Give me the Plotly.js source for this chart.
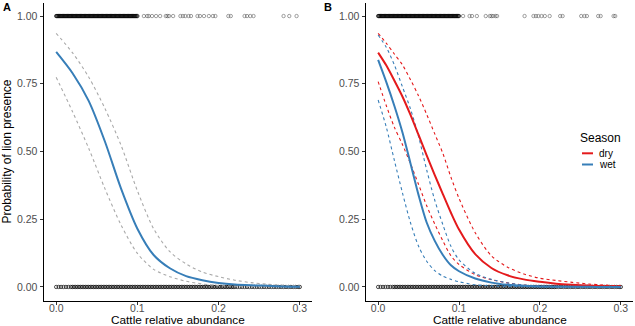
<!DOCTYPE html>
<html>
<head>
<meta charset="utf-8">
<script src="https://cdn.plot.ly/plotly-3.0.1.min.js"></script>
<style>html,body{margin:0;padding:0;background:#fff;}#chart{width:635px;height:326px;}</style>
</head>
<body>
<div id="chart"></div>
<script>
// ---------- data ----------
// Panel A: pooled model
const gridA = [0,0.02,0.04,0.06,0.08,0.10,0.12,0.14,0.16,0.18,0.20,0.22,0.24,0.26,0.28,0.30];
const fitA   = [0.868,0.790,0.687,0.537,0.362,0.215,0.118,0.069,0.040,0.025,0.015,0.009,0.006,0.004,0.002,0.001];
const upperA = [0.936,0.865,0.775,0.659,0.522,0.355,0.215,0.130,0.085,0.055,0.038,0.025,0.016,0.010,0.006,0.004];
const lowerA = [0.774,0.648,0.512,0.363,0.228,0.124,0.065,0.038,0.021,0.011,0.005,0.003,0.002,0.001,0.0005,0.0003];

// Panel B: by season
const gridB = [0,0.01,0.02,0.03,0.04,0.05,0.06,0.07,0.08,0.09,0.10,0.12,0.14,0.16,0.18,0.20,0.22,0.24,0.26,0.28,0.30];
const fitDry   = [0.865,0.818,0.762,0.703,0.635,0.561,0.486,0.413,0.343,0.274,0.212,0.121,0.070,0.043,0.028,0.019,0.012,0.008,0.005,0.003,0.002];
const upperDry = [0.936,0.900,0.860,0.820,0.765,0.705,0.637,0.565,0.493,0.405,0.327,0.200,0.115,0.073,0.048,0.032,0.024,0.017,0.011,0.007,0.004];
const lowerDry = [0.758,0.670,0.590,0.526,0.455,0.378,0.300,0.232,0.170,0.115,0.083,0.045,0.027,0.015,0.007,0.004,0.002,0.001,0.0007,0.0004,0.0002];
const fitWet   = [0.838,0.757,0.669,0.571,0.456,0.339,0.238,0.170,0.118,0.080,0.058,0.031,0.016,0.008,0.004,0.002,0.001,0.0006,0.0003,0.0002,0.0001];
const upperWet = [0.930,0.885,0.820,0.739,0.657,0.555,0.432,0.320,0.230,0.150,0.100,0.050,0.028,0.015,0.007,0.004,0.002,0.001,0.0006,0.0003,0.0002];
const lowerWet = [0.690,0.591,0.468,0.348,0.237,0.150,0.095,0.060,0.040,0.028,0.019,0.008,0.004,0.002,0.001,0.0005,0.0003,0.0002,0.0001,0.0001,0.0001];

// Observations: presences (y = 1). Dense block 0–0.10 shared, then sparse values per panel
const presenceDense = [0.000,0.001,0.002,0.003,0.004,0.005,0.006,0.007,0.008,0.009,0.010,0.011,0.012,0.013,0.014,0.015,0.016,0.017,0.018,0.019,
  0.020,0.021,0.022,0.023,0.024,0.025,0.026,0.027,0.028,0.029,0.030,0.031,0.032,0.033,0.034,0.035,0.036,0.037,0.038,0.039,
  0.040,0.041,0.042,0.043,0.044,0.045,0.046,0.047,0.048,0.049,0.050,0.051,0.052,0.053,0.054,0.055,0.056,0.057,0.058,0.059,
  0.060,0.061,0.062,0.063,0.064,0.065,0.066,0.067,0.068,0.069,0.070,0.071,0.072,0.073,0.074,0.075,0.076,0.077,0.078,0.079,
  0.080,0.081,0.082,0.083,0.084,0.085,0.086,0.087,0.088,0.089,0.090,0.091,0.092,0.093,0.094,0.095,0.096,0.097,0.098,0.099,0.100];
const presenceSparseA = [0.108,0.112,0.114,0.118,0.123,0.128,0.135,0.137,0.139,0.144,0.153,0.156,0.159,0.163,0.166,0.174,0.177,0.182,0.188,0.193,0.196,0.212,0.215,0.232,0.235,0.239,0.243,0.280,0.287,0.296];
const presenceSparseB = [0.105,0.113,0.116,0.122,0.133,0.138,0.140,0.142,0.145,0.147,0.181,0.192,0.195,0.198,0.202,0.206,0.212,0.225,0.228,0.251,0.255,0.258,0.272,0.275,0.291,0.293];
// Absences (y = 0)
const absence = [0.000,0.003,0.006,0.009,0.012,0.015,0.018,0.020,0.022,0.024,0.026,0.028,0.030,0.032,0.034,0.036,0.038,0.040,0.042,0.044,0.046,0.048,
  0.050,0.052,0.054,0.056,0.058,0.060,0.062,0.064,0.066,0.068,0.070,0.072,0.074,0.076,0.078,0.080,0.082,0.084,0.086,0.088,0.090,0.092,0.094,0.096,0.098,
  0.100,0.102,0.104,0.106,0.108,0.110,0.112,0.114,0.116,0.118,0.120,0.122,0.124,0.126,0.128,0.130,0.132,0.134,0.136,0.138,0.140,0.142,0.144,0.146,0.148,
  0.150,0.152,0.154,0.156,0.158,0.160,0.162,0.164,0.166,0.168,0.170,0.172,0.174,0.176,0.178,0.180,0.182,0.184,0.186,0.188,0.190,0.192,0.194,0.196,0.198,
  0.200,0.202,0.204,0.206,0.208,0.210,0.212,0.214,0.216,0.218,0.220,0.223,0.226,0.229,0.232,0.235,0.238,0.241,0.244,0.247,0.250,0.253,0.256,0.259,
  0.262,0.265,0.268,0.271,0.274,0.277,0.280,0.283,0.286,0.289,0.292,0.295,0.298,0.300];

const xTicks = [0,0.1,0.2,0.3];
const xTickText = ['0.0','0.1','0.2','0.3'];
const yTicks = [0,0.25,0.5,0.75,1];
const yTickText = ['0.00','0.25','0.50','0.75','1.00'];
const seasons = ['dry','wet'];
const xTitle = 'Cattle relative abundance';
const yTitle = 'Probability of lion presence';

// ---------- styles ----------
const RED = '#E41A1C', BLUE = '#377EB8', GREY = '#A9A9A9';
const W = 635, H = 326;
const px = v => v / W;
const py = v => 1 - v / H;

function rug(xs, yv, xa, ya, col) {
  return {x: xs, y: xs.map(() => yv), xaxis: xa, yaxis: ya, type: 'scatter', mode: 'markers',
    marker: {symbol: 'circle-open', size: 3.4, color: col, line: {width: 0.8}},
    showlegend: false, hoverinfo: 'x'};
}
function line(xs, ys, xa, ya, color, dashed, name) {
  return {x: xs, y: ys, xaxis: xa, yaxis: ya, type: 'scatter', mode: 'lines', name: name,
    line: {color: color, width: dashed ? 1.1 : 2, dash: dashed ? '3px,3px' : 'solid', shape: 'spline', smoothing: 0.8},
    showlegend: false};
}
const DARK = 'rgba(0,0,0,0.85)', LIGHT = 'rgba(60,60,60,0.6)';

const traces = [
  rug(presenceDense, 1, 'x', 'y', DARK), rug(presenceSparseA, 1, 'x', 'y', LIGHT), rug(absence, 0, 'x', 'y', DARK),
  line(gridA, upperA, 'x', 'y', GREY, true, 'upper'),
  line(gridA, lowerA, 'x', 'y', GREY, true, 'lower'),
  line(gridA, fitA, 'x', 'y', BLUE, false, 'fit'),
  rug(presenceDense, 1, 'x2', 'y2', DARK), rug(presenceSparseB, 1, 'x2', 'y2', LIGHT), rug(absence, 0, 'x2', 'y2', DARK),
  line(gridB, upperDry, 'x2', 'y2', RED, true, 'dry upper'),
  line(gridB, lowerDry, 'x2', 'y2', RED, true, 'dry lower'),
  line(gridB, upperWet, 'x2', 'y2', BLUE, true, 'wet upper'),
  line(gridB, lowerWet, 'x2', 'y2', BLUE, true, 'wet lower'),
  line(gridB, fitDry, 'x2', 'y2', RED, false, seasons[0]),
  line(gridB, fitWet, 'x2', 'y2', BLUE, false, seasons[1])
];

const FONT = 'Liberation Sans, Arial, sans-serif';
const baseX = {range: [-0.015, 0.315], tickvals: xTicks, ticktext: xTickText, showline: true, linecolor: '#000', linewidth: 1,
  ticks: 'outside', ticklen: 3.5, tickcolor: '#333', tickwidth: 1, showgrid: false, zeroline: false, ticklabelstandoff: -6,
  tickfont: {size: 10.5, color: '#4d4d4d', family: FONT}};
const baseY = {range: [-0.05, 1.05], tickvals: yTicks, ticktext: yTickText, showline: true, linecolor: '#000', linewidth: 1,
  ticks: 'outside', ticklen: 3.5, tickcolor: '#333', tickwidth: 1, showgrid: false, zeroline: false,
  tickfont: {size: 10.5, color: '#4d4d4d', family: FONT}};

function note(text, x, y, size, anchor) {
  return {text: text, xref: 'paper', yref: 'paper', x: px(x), y: py(y), xanchor: anchor, yanchor: 'middle',
    showarrow: false, font: {size: size, color: '#000', family: FONT}};
}

const layout = {
  width: W, height: H, margin: {l: 0, r: 0, t: 0, b: 0}, paper_bgcolor: '#fff', plot_bgcolor: '#fff',
  font: {family: FONT},
  showlegend: false,
  xaxis: Object.assign({}, baseX, {domain: [px(44), px(312)], anchor: 'y'}),
  yaxis: Object.assign({}, baseY, {domain: [1 - 300.5 / H, 1 - 2.5 / H], anchor: 'x',
    title: {text: yTitle, font: {size: 12, color: '#000', family: FONT}, standoff: 6}}),
  xaxis2: Object.assign({}, baseX, {domain: [px(366), px(633)], anchor: 'y2'}),
  yaxis2: Object.assign({}, baseY, {domain: [1 - 300.5 / H, 1 - 2.5 / H], anchor: 'x2'}),
  annotations: [
    note('<b>A</b>', 1, 7, 11, 'left'),
    note('<b>B</b>', 322, 7, 11, 'left'),
    note(xTitle, 178, 320, 11.8, 'center'),
    note(xTitle, 499.5, 320, 11.8, 'center'),
    note('Season', 578, 137.5, 12, 'left'),
    note(seasons[0], 597, 153.3, 10, 'left'),
    note(seasons[1], 597, 164.5, 10, 'left')
  ],
  shapes: [
    {type: 'line', xref: 'paper', yref: 'paper', x0: px(582), x1: px(593), y0: py(153.3), y1: py(153.3), line: {color: RED, width: 2}},
    {type: 'line', xref: 'paper', yref: 'paper', x0: px(582), x1: px(593), y0: py(164.5), y1: py(164.5), line: {color: BLUE, width: 2}}
  ]
};

Plotly.newPlot('chart', traces, layout, {staticPlot: true, displayModeBar: false});
</script>
</body>
</html>
